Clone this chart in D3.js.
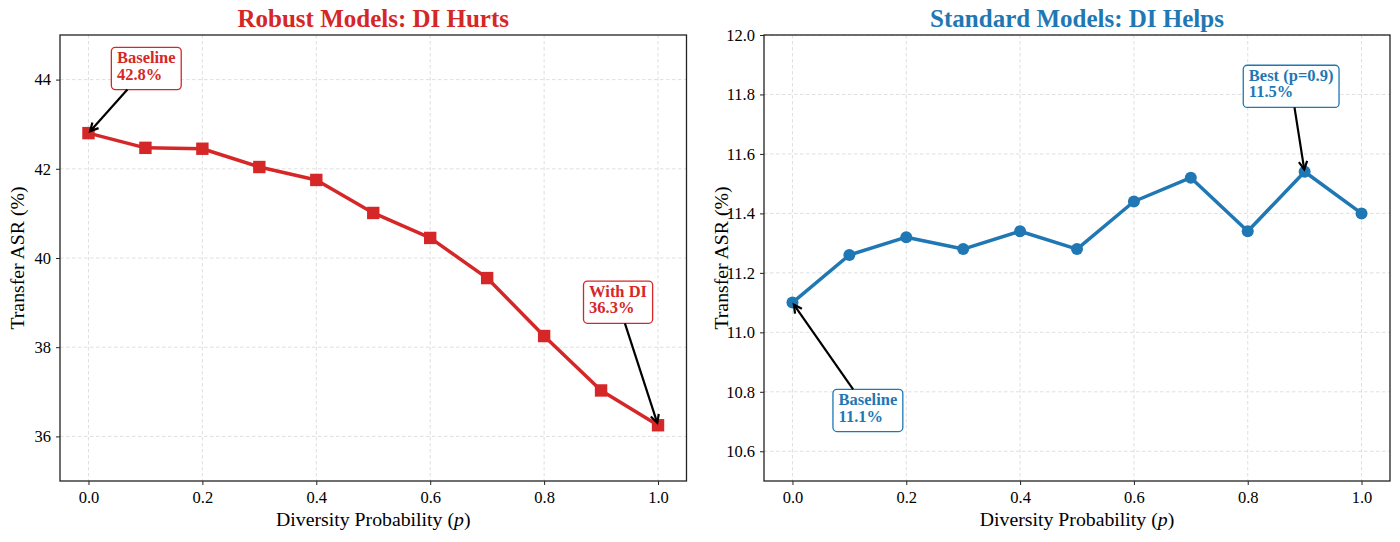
<!DOCTYPE html>
<html><head><meta charset="utf-8">
<script src="https://cdn.jsdelivr.net/npm/d3@7"></script>
<style>body{margin:0;background:#fff}svg{display:block}text{font-family:"Liberation Serif","Times New Roman",serif}</style>
</head><body><svg id="c" width="1400" height="542"></svg>
<script>
const pValues = [0.0,0.1,0.2,0.3,0.4,0.5,0.6,0.7,0.8,0.9,1.0];
const robustASR = [42.8,42.47,42.45,42.04,41.75,41.01,40.45,39.55,38.25,37.03,36.25];
const standardASR = [11.10,11.26,11.32,11.28,11.34,11.28,11.44,11.52,11.34,11.54,11.40];
const xTicks = [0.0,0.2,0.4,0.6,0.8,1.0];
const robustYTicks = [36,38,40,42,44];
const standardYTicks = [10.6,10.8,11.0,11.2,11.4,11.6,11.8,12.0];
const titles = ["Robust Models: DI Hurts","Standard Models: DI Helps"];
const robustNotes = [{lines:["Baseline","42.8%"], at:[0.0,42.8], text:[0.05,44.0]},
                     {lines:["With DI","36.3%"], at:[1.0,36.25], text:[0.879,38.76]}];
const standardNotes = [{lines:["Best (p=0.9)","11.5%"], at:[0.9,11.54], text:[0.802,11.79]},
                       {lines:["Baseline","11.1%"], at:[0.0,11.10], text:[0.081,10.70]}];

const svg = d3.select("#c");

function panel(cfg){
  const {x0,x1,y0,y1,yDomain,yTicks,yFmt,data,color,title,marker,notes} = cfg;
  const x = d3.scaleLinear().domain([-0.05,1.05]).range([x0,x1]);
  const y = d3.scaleLinear().domain(yDomain).range([y1,y0]);
  const g = svg.append("g");
  // grid
  g.append("g").selectAll("line").data(xTicks).join("line")
    .attr("x1",d=>x(d)).attr("x2",d=>x(d)).attr("y1",y0).attr("y2",y1)
    .attr("stroke","#b0b0b0").attr("stroke-opacity",0.5).attr("stroke-width",0.8).attr("stroke-dasharray","3.5,2.5");
  g.append("g").selectAll("line").data(yTicks).join("line")
    .attr("y1",d=>y(d)).attr("y2",d=>y(d)).attr("x1",x0).attr("x2",x1)
    .attr("stroke","#b0b0b0").attr("stroke-opacity",0.5).attr("stroke-width",0.8).attr("stroke-dasharray","3.5,2.5");
  // axes
  const xa = g.append("g").attr("transform",`translate(0,${y1})`)
    .call(d3.axisBottom(x).tickValues(xTicks).tickFormat(d3.format(".1f")).tickSizeOuter(0).tickSize(4).tickPadding(6));
  const ya = g.append("g").attr("transform",`translate(${x0},0)`)
    .call(d3.axisLeft(y).tickValues(yTicks).tickFormat(yFmt).tickSizeOuter(0).tickSize(4).tickPadding(5));
  [xa,ya].forEach(a=>{a.select(".domain").remove();
    a.selectAll("text").attr("font-size",16.5).attr("fill","#000");
    a.selectAll("line").attr("stroke","#222").attr("stroke-width",1);});
  g.append("rect").attr("x",x0).attr("y",y0).attr("width",x1-x0).attr("height",y1-y0)
    .attr("fill","none").attr("stroke","#222").attr("stroke-width",1.3);
  // line
  const pts = pValues.map((p,i)=>[p,data[i]]);
  g.append("path").datum(pts).attr("fill","none").attr("stroke",color).attr("stroke-width",3.5)
    .attr("stroke-linejoin","round")
    .attr("d",d3.line().x(d=>x(d[0])).y(d=>y(d[1])));
  if(marker==="square"){
    g.append("g").selectAll("rect").data(pts).join("rect")
      .attr("x",d=>x(d[0])-6.2).attr("y",d=>y(d[1])-6.2).attr("width",12.4).attr("height",12.4).attr("fill",color);
  } else {
    g.append("g").selectAll("circle").data(pts).join("circle")
      .attr("cx",d=>x(d[0])).attr("cy",d=>y(d[1])).attr("r",6).attr("fill",color);
  }
  // title
  g.append("text").attr("x",(x0+x1)/2).attr("y",26.5).attr("text-anchor","middle")
    .attr("font-size",25).attr("font-weight","bold").attr("fill",color).text(title);
  // axis labels
  const xl = g.append("text").attr("x",(x0+x1)/2).attr("y",526).attr("text-anchor","middle").attr("font-size",19.8);
  xl.append("tspan").text("Diversity Probability (");
  xl.append("tspan").attr("font-style","italic").text("p");
  xl.append("tspan").text(")");
  g.append("text").attr("transform",`translate(${x0-36},${(y0+y1)/2}) rotate(-90)`)
    .attr("text-anchor","middle").attr("font-size",19.8).text("Transfer ASR (%)");
  // annotations
  notes.forEach(n=>{
    const ng = g.append("g");
    const tx = x(n.text[0]), ty = y(n.text[1]);
    const lh = 16.3, fs = 16.5;
    const t = ng.append("text").attr("font-size",fs).attr("font-weight","bold").attr("fill",color);
    n.lines.forEach((l,i)=>t.append("tspan").attr("x",tx).attr("y",ty-(n.lines.length-1-i)*lh).text(l));
    const bb = t.node().getBBox();
    const capTop = ty-(n.lines.length-1)*lh - fs*0.66;
    const bx = bb.x-5.6, bw = bb.width+11.2;
    const by = capTop-5, bh = (ty+10)-by;
    ng.insert("rect","text").attr("x",bx).attr("y",by).attr("width",bw).attr("height",bh)
      .attr("rx",4).attr("fill","#fff").attr("stroke",color).attr("stroke-width",1.3);
    // arrow from box edge to point
    const cx = bx+bw/2, cy = by+bh/2;
    const px = x(n.at[0]), py = y(n.at[1]);
    const dx = px-cx, dy = py-cy;
    const tEdge = Math.min(Math.abs((bw/2)/dx||Infinity), Math.abs((bh/2)/dy||Infinity));
    const sx = cx+dx*tEdge, sy = cy+dy*tEdge;
    const len = Math.hypot(px-sx,py-sy);
    const ux=(px-sx)/len, uy=(py-sy)/len;
    const ex = px-ux*2.5, ey = py-uy*2.5;
    g.append("line").attr("x1",sx).attr("y1",sy).attr("x2",ex).attr("y2",ey)
      .attr("stroke","#000").attr("stroke-width",2.2);
    const hl=9, ang=Math.PI/6.5;
    const a0 = Math.atan2(-uy,-ux);
    const h1=[ex+hl*Math.cos(a0+ang), ey+hl*Math.sin(a0+ang)];
    const h2=[ex+hl*Math.cos(a0-ang), ey+hl*Math.sin(a0-ang)];
    g.append("path").attr("d",`M${h1[0]},${h1[1]}L${ex},${ey}L${h2[0]},${h2[1]}`)
      .attr("fill","none").attr("stroke","#000").attr("stroke-width",2.2).attr("stroke-linejoin","miter");
  });
}

panel({x0:60,x1:686.5,y0:35,y1:481,yDomain:[35,45],yTicks:robustYTicks,yFmt:d3.format("d"),
  data:robustASR,color:"#d62728",title:titles[0],marker:"square",notes:robustNotes});
panel({x0:764,x1:1390,y0:35,y1:481,yDomain:[10.5,12.0],yTicks:standardYTicks,yFmt:d3.format(".1f"),
  data:standardASR,color:"#1f77b4",title:titles[1],marker:"circle",notes:standardNotes});
</script></body></html>
